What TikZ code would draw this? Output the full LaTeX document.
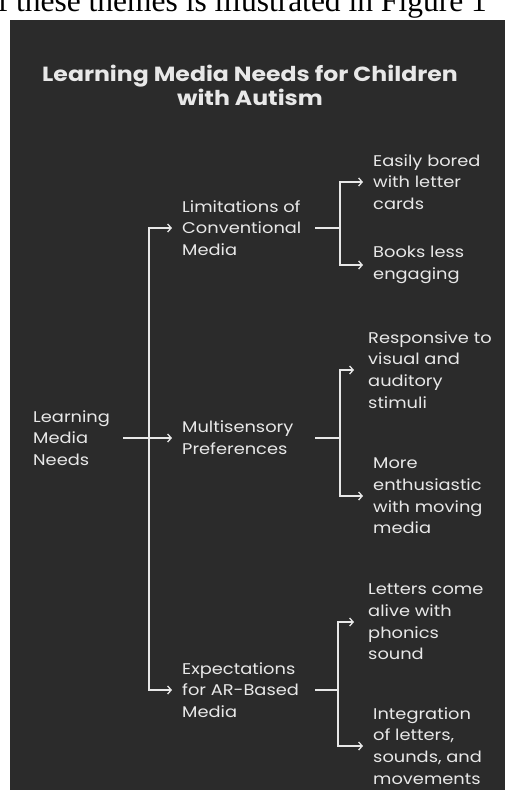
\documentclass[tikz,border=0pt]{standalone}
\usepackage{fontspec}
\setmainfont{Poppins}[FakeStretch=1.15]
\newfontfamily\serifpart{Liberation Serif}
\usetikzlibrary{arrows.meta}
\definecolor{panelbg}{RGB}{43,43,43}
\definecolor{ink}{RGB}{232,232,232}
\tikzset{
  x=1pt, y=1pt,
  txt/.style={anchor=west, align=left, inner sep=0pt, text=ink,
    font=\fontsize{15.5}{21.7}\selectfont},
  ttl/.style={align=center, inner sep=0pt, text=ink,
    font=\fontsize{20.5}{24}\selectfont\bfseries},
  line/.style={draw=ink, line width=1.3pt},
  arr/.style={line, -{Straight Barb[length=3.5pt,width=8pt,line width=1.3pt]}, shorten >=10pt},
}
\begin{document}
\begin{tikzpicture}
\useasboundingbox (0,0) rectangle (505,-790);
\clip (0,0) rectangle (505,-790);
\fill[white] (0,0) rectangle (505,-790);
\node[anchor=base east, inner sep=0pt, font=\serifpart\fontsize{31.5}{34}\selectfont] (cap) at (487,-11) {of these themes is illustrated in Figure 1};
\fill[panelbg] (10,-20) rectangle (505,-790);

\node[ttl] (title) at (250,-85) {Learning Media Needs for Children\\with Autism};

\node[txt] (root) at (33,-438) {Learning\\Media\\Needs};
\node[txt] (la) at (182,-228) {Limitations of\\Conventional\\Media};
\node[txt] (lb) at (182,-438) {Multisensory\\Preferences};
\node[txt] (lc) at (182,-690) {Expectations\\for AR-Based\\Media};

\node[txt] (a1) at (373,-182) {Easily bored\\with letter\\cards};
\node[txt] (a2) at (373,-265) {Books less\\engaging};
\node[txt] (b1) at (368,-370) {Responsive to\\visual and\\auditory\\stimuli};
\node[txt] (b2) at (373,-496) {More\\enthusiastic\\with moving\\media};
\node[txt] (c1) at (368,-622) {Letters come\\alive with\\phonics\\sound};
\node[txt] (c2) at (373,-746) {Integration\\of letters,\\sounds, and\\movements};

\coordinate (bus) at (149,-438);
\coordinate (ja) at (340,-228);
\coordinate (jb) at (340,-438);
\coordinate (jc) at (338,-690);

\draw[line] (123,-438) -- (bus);
\draw[arr] (bus) -- (lb.west);
\draw[arr] (bus) |- (la.west);
\draw[arr] (bus) |- (lc.west);

\draw[line] (315,-228) -- (ja);
\draw[arr] (ja) |- (a1.west);
\draw[arr] (ja) |- (a2.west);

\draw[line] (315,-438) -- (jb);
\draw[arr] (jb) |- ([xshift=-4pt]b1.west);
\draw[arr] (jb) |- (b2.west);

\draw[line] (315,-690) -- (jc);
\draw[arr] (jc) |- ([xshift=-4pt]c1.west);
\draw[arr] (jc) |- (c2.west);
\end{tikzpicture}
\end{document}
